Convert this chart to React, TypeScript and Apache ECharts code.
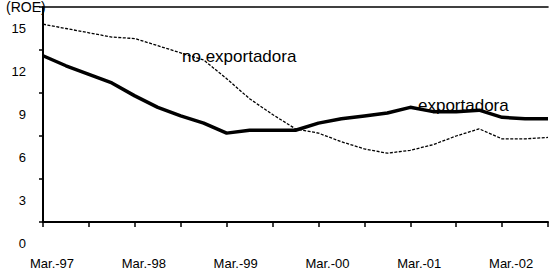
import React, { useEffect, useRef } from "react";
import * as echarts from "echarts";

const categories = [
  "Mar.-97", "Jun.-97", "Sep.-97", "Dic.-97",
  "Mar.-98", "Jun.-98", "Sep.-98", "Dic.-98",
  "Mar.-99", "Jun.-99", "Sep.-99", "Dic.-99",
  "Mar.-00", "Jun.-00", "Sep.-00", "Dic.-00",
  "Mar.-01", "Jun.-01", "Sep.-01", "Dic.-01",
  "Mar.-02", "Jun.-02", "Sep.-02",
];

const exportadora = [
  13.1, 12.4, 11.8, 11.2, 10.3, 9.5, 8.9, 8.4, 7.7, 7.9, 7.9, 7.9,
  8.4, 8.7, 8.9, 9.1, 9.5, 9.2, 9.2, 9.3, 8.8, 8.7, 8.7,
];

const noExportadora = [
  15.3, 15.0, 14.7, 14.4, 14.3, 13.8, 13.3, 12.8, 11.5, 10.1, 9.0, 8.0,
  7.7, 7.1, 6.6, 6.3, 6.5, 6.9, 7.5, 8.0, 7.3, 7.3, 7.4,
];

const yTickLabels = [0, 3, 6, 9, 12, 15];

const FONT = '"Liberation Sans", Arial, sans-serif';

export default function App() {
  const ref = useRef<HTMLDivElement>(null);

  useEffect(() => {
    if (!ref.current) return;
    const chart = echarts.init(ref.current, undefined, { renderer: "svg" });
    const option: any = {
      animation: false,
      backgroundColor: "#ffffff",
      textStyle: { fontFamily: FONT, color: "#000" },
      grid: [
        { left: 43, right: 2, top: 7, bottom: 49 },
        { left: 43, right: 2, top: 7, bottom: 28 },
      ],
      xAxis: [
        {
          gridIndex: 0,
          type: "category",
          data: categories,
          boundaryGap: false,
          position: "bottom",
          axisLine: { onZero: false, lineStyle: { color: "#000", width: 2 } },
          axisTick: { interval: 1, length: 5, lineStyle: { color: "#000", width: 1.5 } },
          axisLabel: {
            interval: 3,
            margin: 35,
            fontSize: 13,
            fontFamily: FONT,
            color: "#000",
            padding: [0, 0, 0, 18],
          },
          splitLine: { show: false },
        },
        {
          gridIndex: 0,
          type: "category",
          data: categories,
          boundaryGap: false,
          position: "top",
          axisLine: { onZero: false, lineStyle: { color: "#000", width: 1.6 } },
          axisTick: { show: false },
          axisLabel: { show: false },
          splitLine: { show: false },
        },
        {
          gridIndex: 1,
          type: "category",
          data: categories,
          boundaryGap: false,
          show: false,
        },
      ],
      yAxis: [
        {
          gridIndex: 0,
          type: "value",
          min: 1.5,
          max: 16.5,
          interval: 3,
          axisLine: { show: true, onZero: false, lineStyle: { color: "#000", width: 2 } },
          axisTick: { show: true, length: 4, lineStyle: { color: "#000", width: 1.5 } },
          axisLabel: { show: false },
          splitLine: { show: false },
        },
        {
          gridIndex: 1,
          type: "value",
          min: 0,
          max: 16.5,
          interval: 3,
          axisLine: { show: false, onZero: false },
          axisTick: { show: false },
          splitLine: { show: false },
          axisLabel: {
            margin: 17,
            fontSize: 13,
            fontFamily: FONT,
            color: "#000",
            formatter: (v: number) => (yTickLabels.includes(v) ? String(v) : ""),
          },
        },
      ],
      series: [
        {
          name: "no exportadora",
          type: "line",
          xAxisIndex: 0,
          yAxisIndex: 0,
          data: noExportadora,
          showSymbol: false,
          symbol: "none",
          lineStyle: { color: "#000", width: 1.3, type: [3, 1.5] },
          z: 3,
        },
        {
          name: "exportadora",
          type: "line",
          xAxisIndex: 0,
          yAxisIndex: 0,
          data: exportadora,
          showSymbol: false,
          symbol: "none",
          lineStyle: { color: "#000", width: 3.5 },
          z: 4,
        },
      ],
      graphic: [
        {
          type: "text",
          left: 6,
          top: 0,
          z: 1,
          style: { text: "(ROE)", font: `14px ${FONT}`, fill: "#000" },
        },
        {
          type: "text",
          x: 182,
          y: 56,
          z: 10,
          style: {
            text: "no exportadora",
            font: `17px ${FONT}`,
            fill: "#000",
            verticalAlign: "middle",
          },
        },
        {
          type: "text",
          x: 418,
          y: 105,
          z: 10,
          style: {
            text: "exportadora",
            font: `17px ${FONT}`,
            fill: "#000",
            verticalAlign: "middle",
          },
        },
      ],
    };
    chart.setOption(option);
    return () => chart.dispose();
  }, []);

  return (
    <div
      ref={ref}
      style={{ position: "absolute", left: 0, top: 0, width: 550, height: 271 }}
    />
  );
}
